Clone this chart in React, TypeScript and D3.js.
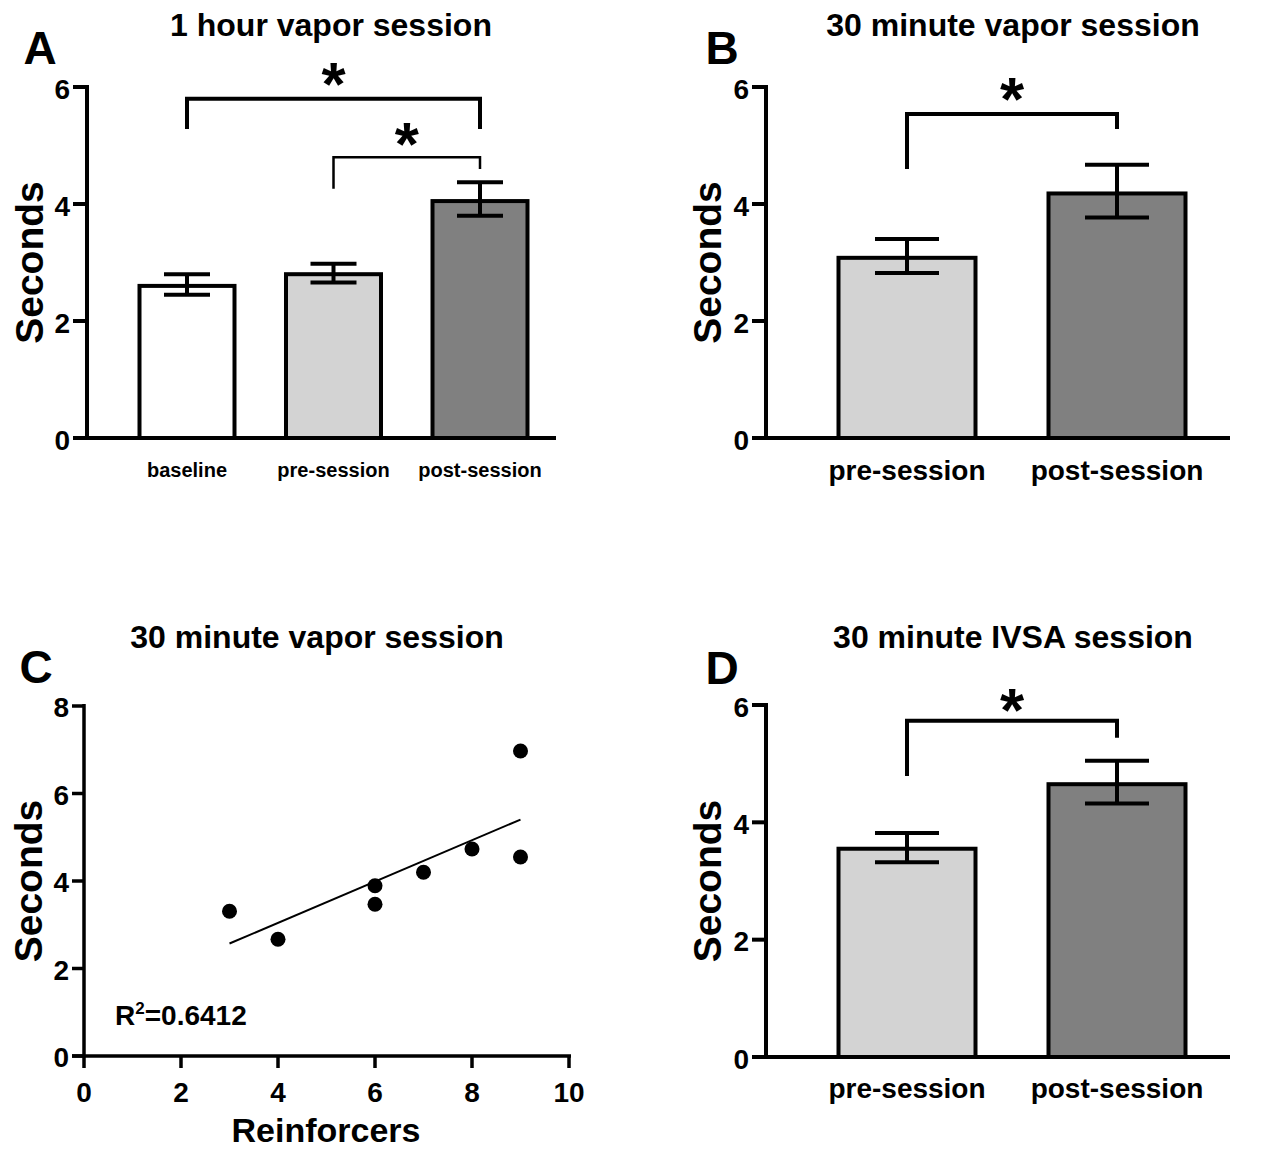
import * as d3 from 'd3'

const FONT = '"Liberation Sans", Arial, Helvetica, sans-serif'

// Panel A: 1 hour vapor session
const aCategories = ['baseline', 'pre-session', 'post-session']
const aMeans = [2.6, 2.8, 4.05]
const aLow = [2.45, 2.66, 3.8]
const aHigh = [2.8, 2.98, 4.37]
const aFills = ['#ffffff', '#d3d3d3', '#808080']

// Panel B: 30 minute vapor session
const bCategories = ['pre-session', 'post-session']
const bMeans = [3.08, 4.18]
const bLow = [2.82, 3.77]
const bHigh = [3.4, 4.67]
const bFills = ['#d3d3d3', '#808080']

// Panel C: scatter, reinforcers vs seconds
const cReinforcers = [3, 4, 6, 6, 7, 8, 9, 9]
const cSeconds = [3.31, 2.67, 3.89, 3.47, 4.2, 4.73, 6.97, 4.55]
const cR2 = '0.6412'

// Panel D: 30 minute IVSA session
const dCategories = ['pre-session', 'post-session']
const dMeans = [3.55, 4.65]
const dLow = [3.32, 4.32]
const dHigh = [3.82, 5.05]
const dFills = ['#d3d3d3', '#808080']

const barTicks = [0, 2, 4, 6]
const cYTicks = [0, 2, 4, 6, 8]
const cXTicks = [0, 2, 4, 6, 8, 10]

interface Bracket {
  from: string
  to: string
  level: number
  leftEnd: number
  rightEnd: number
  star: number
  width: number
}

interface BarPanelProps {
  letter: string
  letterX: number
  letterY: number
  title: string
  titleX: number
  titleY: number
  axisX: number
  axisEnd: number
  yTop: number
  yBottom: number
  centers: [number, number]
  barWidth: number
  capWidth: number
  categories: string[]
  means: number[]
  low: number[]
  high: number[]
  fills: string[]
  labelSize: number
  labelY: number
  brackets: Bracket[]
  ylabelX: number
}

function Star({ x, y }: { x: number; y: number }) {
  const fs = 62
  return (
    <text x={x} y={y + fs * 0.58} textAnchor="middle" fontSize={fs} fontWeight="bold" fontFamily={FONT}>*</text>
  )
}

function BarPanel(p: BarPanelProps) {
  const y = d3.scaleLinear().domain([0, 6]).range([p.yBottom, p.yTop])
  const x = d3.scalePoint<string>().domain(p.categories).range(p.centers)
  const midY = (p.yTop + p.yBottom) / 2
  return (
    <g>
      <text x={p.titleX} y={p.titleY} textAnchor="middle" fontSize={32} fontWeight="bold" fontFamily={FONT}>{p.title}</text>
      <text x={p.letterX} y={p.letterY} textAnchor="middle" fontSize={46} fontWeight="bold" fontFamily={FONT}>{p.letter}</text>
      <text transform={`translate(${p.ylabelX},${midY}) rotate(-90)`} textAnchor="middle" fontSize={39} fontWeight="bold" fontFamily={FONT}>Seconds</text>
      {p.categories.map((c, i) => {
        const cx = x(c)!
        return (
          <g key={c}>
            <rect x={cx - p.barWidth / 2} y={y(p.means[i])} width={p.barWidth} height={y(0) - y(p.means[i])}
              fill={p.fills[i]} stroke="#000" strokeWidth={4} />
            <line x1={cx} x2={cx} y1={y(p.low[i])} y2={y(p.high[i])} stroke="#000" strokeWidth={4} />
            <line x1={cx - p.capWidth / 2} x2={cx + p.capWidth / 2} y1={y(p.low[i])} y2={y(p.low[i])} stroke="#000" strokeWidth={4} />
            <line x1={cx - p.capWidth / 2} x2={cx + p.capWidth / 2} y1={y(p.high[i])} y2={y(p.high[i])} stroke="#000" strokeWidth={4} />
            <text x={cx} y={p.labelY} textAnchor="middle" fontSize={p.labelSize} fontWeight="bold" fontFamily={FONT}>{c}</text>
          </g>
        )
      })}
      {/* axes */}
      <line x1={p.axisX} x2={p.axisX} y1={p.yTop - 2} y2={p.yBottom} stroke="#000" strokeWidth={4} />
      <line x1={p.axisX - 14} x2={p.axisEnd} y1={p.yBottom} y2={p.yBottom} stroke="#000" strokeWidth={4} />
      {barTicks.map(t => (
        <g key={t}>
          <line x1={p.axisX - 14} x2={p.axisX} y1={y(t)} y2={y(t)} stroke="#000" strokeWidth={4} />
          <text x={p.axisX - 17} y={y(t)} dy="0.42em" textAnchor="end" fontSize={28} fontWeight="bold" fontFamily={FONT}>{t}</text>
        </g>
      ))}
      {p.brackets.map((b, i) => {
        const x1 = x(b.from)!
        const x2 = x(b.to)!
        return (
          <g key={i}>
            <path d={`M${x1},${y(b.leftEnd)}V${y(b.level)}H${x2}V${y(b.rightEnd)}`} fill="none" stroke="#000" strokeWidth={b.width} />
            <Star x={(x1 + x2) / 2} y={y(b.star)} />
          </g>
        )
      })}
    </g>
  )
}

function ScatterPanel() {
  const x = d3.scaleLinear().domain([0, 10]).range([84, 569])
  const y = d3.scaleLinear().domain([0, 8]).range([1056, 706])
  const mx = d3.mean(cReinforcers)!
  const my = d3.mean(cSeconds)!
  const sxy = d3.sum(cReinforcers.map((v, i) => (v - mx) * (cSeconds[i] - my)))
  const sxx = d3.sum(cReinforcers.map(v => (v - mx) ** 2))
  const slope = sxy / sxx
  const fit = (v: number) => my + slope * (v - mx)
  const [xMin, xMax] = d3.extent(cReinforcers) as [number, number]
  const line = d3.line<number>().x(d => x(d)).y(d => y(fit(d)))
  return (
    <g>
      <text x={317} y={648} textAnchor="middle" fontSize={32} fontWeight="bold" fontFamily={FONT}>30 minute vapor session</text>
      <text x={36} y={683} textAnchor="middle" fontSize={46} fontWeight="bold" fontFamily={FONT}>C</text>
      <text transform={`translate(42,881) rotate(-90)`} textAnchor="middle" fontSize={39} fontWeight="bold" fontFamily={FONT}>Seconds</text>
      <line x1={x(0)} x2={x(0)} y1={y(8) - 2} y2={y(0)} stroke="#000" strokeWidth={3.5} />
      <line x1={x(0) - 12} x2={x(10) + 2} y1={y(0)} y2={y(0)} stroke="#000" strokeWidth={3.5} />
      {cYTicks.map(t => (
        <g key={t}>
          <line x1={x(0) - 12} x2={x(0)} y1={y(t)} y2={y(t)} stroke="#000" strokeWidth={3.5} />
          <text x={x(0) - 15} y={y(t)} dy="0.4em" textAnchor="end" fontSize={28} fontWeight="bold" fontFamily={FONT}>{t}</text>
        </g>
      ))}
      {cXTicks.map(t => (
        <g key={t}>
          <line x1={x(t)} x2={x(t)} y1={y(0)} y2={y(0) + 12} stroke="#000" strokeWidth={3.5} />
          <text x={x(t)} y={y(0) + 46} textAnchor="middle" fontSize={28} fontWeight="bold" fontFamily={FONT}>{t}</text>
        </g>
      ))}
      <text x={326} y={1142} textAnchor="middle" fontSize={34} fontWeight="bold" fontFamily={FONT}>Reinforcers</text>
      <path d={line([xMin, xMax])!} fill="none" stroke="#000" strokeWidth={2} />
      {cReinforcers.map((v, i) => (
        <circle key={i} cx={x(v)} cy={y(cSeconds[i])} r={7.5} fill="#000" />
      ))}
      <text x={115} y={1025} fontSize={28} fontWeight="bold" fontFamily={FONT}>
        R<tspan dy={-11} fontSize={17}>2</tspan><tspan dy={11}>={cR2}</tspan>
      </text>
    </g>
  )
}

export default function App() {
  return (
    <svg width={1268} height={1149} style={{ position: 'absolute', left: 0, top: 0, background: '#fff' }}>
      <rect width={1268} height={1149} fill="#fff" />
      <BarPanel
        letter="A" letterX={40} letterY={64}
        title="1 hour vapor session" titleX={331} titleY={36}
        axisX={87} axisEnd={556} yTop={87} yBottom={438}
        centers={[187, 480]} barWidth={95} capWidth={46}
        categories={aCategories} means={aMeans} low={aLow} high={aHigh} fills={aFills}
        labelSize={20} labelY={477}
        brackets={[
          { from: 'baseline', to: 'post-session', level: 5.8, leftEnd: 5.28, rightEnd: 5.28, star: 6.3, width: 4 },
          { from: 'pre-session', to: 'post-session', level: 4.8, leftEnd: 4.26, rightEnd: 4.6, star: 5.28, width: 2.5 },
        ]}
        ylabelX={43}
      />
      <BarPanel
        letter="B" letterX={722} letterY={64}
        title="30 minute vapor session" titleX={1013} titleY={36}
        axisX={766} axisEnd={1230} yTop={87} yBottom={438}
        centers={[907, 1117]} barWidth={137} capWidth={64}
        categories={bCategories} means={bMeans} low={bLow} high={bHigh} fills={bFills}
        labelSize={28} labelY={480}
        brackets={[
          { from: 'pre-session', to: 'post-session', level: 5.54, leftEnd: 4.6, rightEnd: 5.28, star: 6.05, width: 4 },
        ]}
        ylabelX={721}
      />
      <ScatterPanel />
      <BarPanel
        letter="D" letterX={722} letterY={684}
        title="30 minute IVSA session" titleX={1013} titleY={648}
        axisX={766} axisEnd={1230} yTop={705} yBottom={1057}
        centers={[907, 1117]} barWidth={137} capWidth={64}
        categories={dCategories} means={dMeans} low={dLow} high={dHigh} fills={dFills}
        labelSize={28} labelY={1098}
        brackets={[
          { from: 'pre-session', to: 'post-session', level: 5.73, leftEnd: 4.79, rightEnd: 5.44, star: 6.17, width: 4 },
        ]}
        ylabelX={721}
      />
    </svg>
  )
}
